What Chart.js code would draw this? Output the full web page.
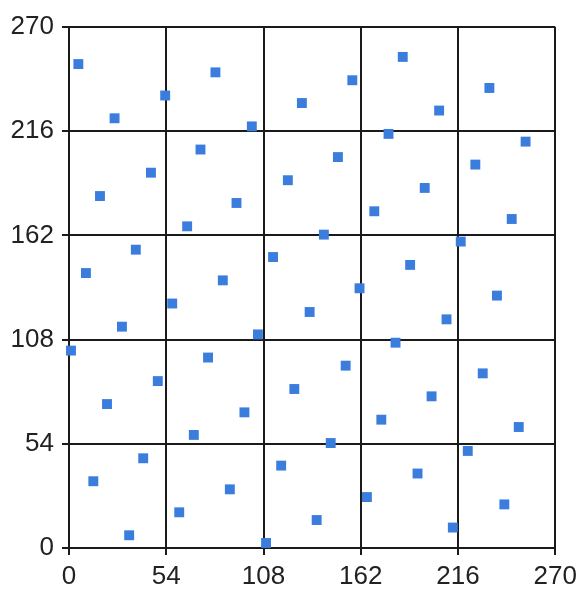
<!DOCTYPE html>
<html>
<head>
<meta charset="utf-8">
<script src="https://cdn.jsdelivr.net/npm/chart.js@4/dist/chart.umd.min.js"></script>
<style>
  html, body { margin: 0; padding: 0; background: #fff; }
  #wrap { width: 583px; height: 596px; }
</style>
</head>
<body>
<div id="wrap"><canvas id="grafico"></canvas></div>
<script>
// valores
const xs = [5.2, 25.3, 53.4, 81.3, 101.5, 129.3, 157.3, 185.3, 177.4, 205.5, 233.4, 253.5,
  225.6, 197.5, 169.5, 149.3, 121.5, 93.0, 73.0, 45.5, 17.2, 65.6, 37.1, 9.4,
  113.3, 141.5, 189.4, 217.5, 245.8, 237.6, 209.6, 161.3, 133.6, 85.4, 57.3, 29.4,
  1.1, 104.9, 181.3, 77.2, 49.3, 21.1, 153.6, 125.1, 97.4, 229.7, 201.3, 173.4,
  145.3, 69.3, 41.2, 13.5, 249.7, 221.4, 193.5, 165.4, 117.8, 89.3, 61.2, 33.4,
  109.4, 137.5, 213.1, 241.7];
const ys = [250.8, 222.7, 234.5, 246.5, 218.5, 230.6, 242.4, 254.5, 214.6, 226.7, 238.4, 210.6,
  198.7, 186.6, 174.5, 202.6, 190.6, 178.8, 206.5, 194.5, 182.4, 166.7, 154.6, 142.5,
  150.8, 162.4, 146.7, 158.8, 170.5, 130.8, 118.5, 134.6, 122.3, 138.7, 126.7, 114.7,
  102.3, 110.7, 106.4, 98.7, 86.5, 74.6, 94.5, 82.4, 70.3, 90.5, 78.6, 66.5,
  54.4, 58.6, 46.5, 34.6, 62.7, 50.3, 38.6, 26.4, 42.7, 30.4, 18.5, 6.6,
  2.6, 14.5, 10.6, 22.6];
const ticks = [0, 54, 108, 162, 216, 270];

const puntos = xs.map((x, i) => ({ x: x, y: ys[i] }));

const fuente = { family: "'Liberation Sans', Arial, sans-serif", size: 26 };
const rejilla = {
  color: "#1a1a1a",
  lineWidth: 2,
  tickLength: 7,
  drawTicks: true,
};

new Chart(document.getElementById("grafico"), {
  type: "scatter",
  data: {
    datasets: [
      {
        data: puntos,
        pointStyle: "rect",
        pointRadius: 7,
        pointHoverRadius: 7,
        backgroundColor: "#3b7ddd",
        borderWidth: 0,
        clip: false,
      },
    ],
  },
  options: {
    responsive: true,
    maintainAspectRatio: false,
    animation: false,
    layout: { padding: { top: 27, right: 27, left: 0, bottom: 0 } },
    plugins: {
      legend: { display: false },
      tooltip: { enabled: false },
    },
    scales: {
      x: {
        type: "linear",
        min: ticks[0],
        max: ticks[ticks.length - 1],
        afterBuildTicks: (s) => { s.ticks = ticks.map((v) => ({ value: v })); },
        afterFit: (s) => { s.height = 48; },
        grid: rejilla,
        border: { color: "#1a1a1a", width: 2 },
        ticks: { color: "#222", font: fuente, padding: 6, maxRotation: 0 },
      },
      y: {
        type: "linear",
        min: ticks[0],
        max: ticks[ticks.length - 1],
        afterBuildTicks: (s) => { s.ticks = ticks.map((v) => ({ value: v })); },
        afterFit: (s) => { s.width = 69; },
        grid: rejilla,
        border: { color: "#1a1a1a", width: 2 },
        ticks: { color: "#222", font: fuente, padding: 8 },
      },
    },
  },
});
</script>
</body>
</html>
